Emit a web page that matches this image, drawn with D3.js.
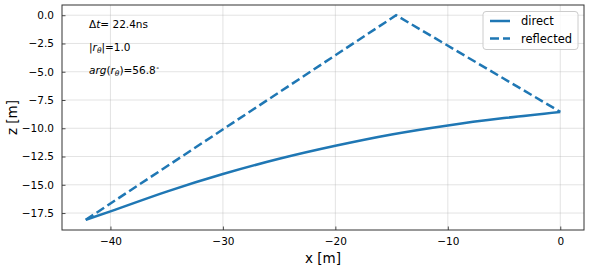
<!DOCTYPE html>
<html><head><meta charset="utf-8">
<script src="https://cdn.jsdelivr.net/npm/d3@7"></script>
<style>
body{margin:0;background:#fff;}
text{font-family:"DejaVu Sans",sans-serif;}
</style></head>
<body><svg id="c" width="590" height="272"></svg>
<script>
// data
const directX = [-42.2, -40, -35, -30, -25, -20, -15, -10, -5, 0];
const directZ = [-18.1, -17.35, -15.6, -14.05, -12.7, -11.55, -10.55, -9.75, -9.1, -8.55];
const reflectedX = [-42.2, -14.6, 0];
const reflectedZ = [-18.1, 0.0, -8.55];
const xTicks = [-40, -30, -20, -10, 0];
const yTicks = [0, -2.5, -5, -7.5, -10, -12.5, -15, -17.5];
const seriesNames = ["direct", "reflected"];

const svg = d3.select("#c");
const L = 62, R = 584, T = 5, B = 230;
const x = d3.scaleLinear().domain([-44.31, 2.11]).range([L, R]);
const y = d3.scaleLinear().domain([-19.0, 0.905]).range([B, T]);
const color = "#1f77b4";
const dash = "9,4";

// grid
const g = svg.append("g");
g.selectAll(".gx").data(xTicks).enter().append("line")
  .attr("x1", d => x(d)).attr("x2", d => x(d)).attr("y1", T).attr("y2", B)
  .attr("stroke", "#b0b0b0").attr("stroke-opacity", 0.45).attr("stroke-width", 0.8);
g.selectAll(".gy").data(yTicks).enter().append("line")
  .attr("y1", d => y(d)).attr("y2", d => y(d)).attr("x1", L).attr("x2", R)
  .attr("stroke", "#b0b0b0").attr("stroke-opacity", 0.45).attr("stroke-width", 0.8);

// axes
const fmtY = d => (d < 0 ? "\u2212" : "") + Math.abs(d).toFixed(1);
const fmtX = d => (d < 0 ? "\u2212" : "") + Math.abs(d);
const xAxis = svg.append("g").attr("transform", `translate(0,${B})`)
  .call(d3.axisBottom(x).tickValues(xTicks).tickSizeInner(-3.5).tickSizeOuter(0).tickPadding(8).tickFormat(fmtX));
const yAxis = svg.append("g").attr("transform", `translate(${L},0)`)
  .call(d3.axisLeft(y).tickValues(yTicks).tickSizeInner(-3.5).tickSizeOuter(0).tickPadding(8).tickFormat(fmtY));
[xAxis, yAxis].forEach(a => {
  a.select(".domain").remove();
  a.selectAll(".tick line").attr("stroke", "#222").attr("stroke-width", 0.8);
  a.selectAll(".tick text").attr("font-size", 10.5).attr("fill", "#000").attr("font-family", "DejaVu Sans");
});

// lines
const line = d3.line().x(d => x(d[0])).y(d => y(d[1])).curve(d3.curveMonotoneX);
const dpts = directX.map((v, i) => [v, directZ[i]]);
const rpts = reflectedX.map((v, i) => [v, reflectedZ[i]]);
svg.append("path").attr("d", line(dpts)).attr("fill", "none").attr("stroke", color).attr("stroke-width", 2.5);
svg.append("path").attr("d", d3.line().x(d => x(d[0])).y(d => y(d[1]))(rpts))
  .attr("fill", "none").attr("stroke", color).attr("stroke-width", 2.5).attr("stroke-dasharray", dash);

// frame
svg.append("rect").attr("x", L).attr("y", T).attr("width", R - L).attr("height", B - T)
  .attr("fill", "none").attr("stroke", "#333").attr("stroke-width", 1);

// axis labels
svg.append("text").attr("x", (L + R) / 2).attr("y", 263).attr("text-anchor", "middle")
  .attr("font-size", 13.5).text("x [m]");
svg.append("text").attr("transform", `translate(17,${(T + B) / 2}) rotate(-90)`).attr("text-anchor", "middle")
  .attr("font-size", 13.5).text("z [m]");

// annotations
const ann = svg.append("g").attr("font-size", 10.5).attr("fill", "#000");
const t1 = ann.append("text").attr("x", 89).attr("y", 28);
t1.append("tspan").text("\u0394");
t1.append("tspan").attr("font-style", "italic").text("t");
t1.append("tspan").text("= 22.4ns");
const t2 = ann.append("text").attr("x", 89).attr("y", 51);
t2.append("tspan").text("|");
t2.append("tspan").attr("font-style", "italic").text("r");
t2.append("tspan").attr("font-style", "italic").attr("font-size", 7.5).attr("dy", 2).text("\u03b8");
t2.append("tspan").attr("dy", -2).text("|=1.0");
const t3 = ann.append("text").attr("x", 89).attr("y", 74);
t3.append("tspan").attr("font-style", "italic").text("arg");
t3.append("tspan").text("(");
t3.append("tspan").attr("font-style", "italic").text("r");
t3.append("tspan").attr("font-style", "italic").attr("font-size", 7.5).attr("dy", 2).text("\u03b8");
t3.append("tspan").attr("dy", -2).text(")=56.8");
t3.append("tspan").attr("font-size", 6).attr("dy", -4).text("\u2218");

// legend
const lg = svg.append("g");
lg.append("rect").attr("x", 483).attr("y", 11.5).attr("width", 95).attr("height", 38).attr("rx", 3)
  .attr("fill", "#fff").attr("fill-opacity", 0.8).attr("stroke", "#ccc").attr("stroke-width", 1);
seriesNames.forEach((n, i) => {
  const yy = 21 + i * 17.5;
  lg.append("line").attr("x1", 490).attr("x2", 510).attr("y1", yy).attr("y2", yy)
    .attr("stroke", color).attr("stroke-width", 2.5).attr("stroke-dasharray", i === 1 ? dash : null);
  lg.append("text").attr("x", 521).attr("y", yy + 4).attr("font-size", 11.5).text(n);
});
</script></body></html>
